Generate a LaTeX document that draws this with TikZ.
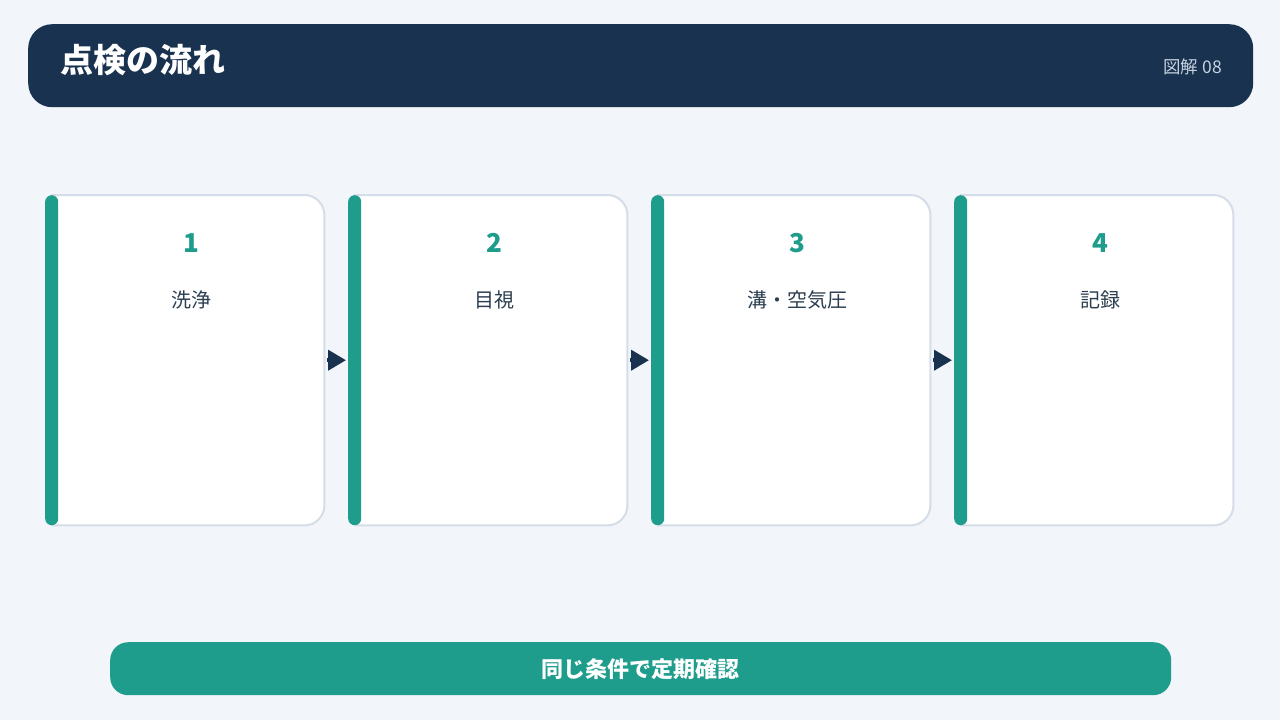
\documentclass[tikz,border=0pt]{standalone}
\usepackage{fontspec}
\setmainfont{Noto Sans CJK JP}
\usepackage{xcolor}
\usepackage{tikz}
\usetikzlibrary{arrows.meta}
\usetikzlibrary{positioning}

\definecolor{navy}{HTML}{18324F}
\definecolor{teal_main}{HTML}{1E9C8C}
\definecolor{page_bg}{HTML}{F2F5FA}
\definecolor{card_line}{HTML}{D5DEE8}
\definecolor{ink}{HTML}{2C3E50}
\definecolor{sub_ink}{HTML}{C5D2E0}

\tikzset{
    box/.style = {rectangle, inner sep=0pt, align=center},
    head_box/.style = {box, fill=navy, rounded corners=24pt, minimum width=1225pt, minimum height=83pt},
    head_title/.style = {box, text=white, font=\fontsize{33}{38}\selectfont\bfseries},
    head_tag/.style = {box, text=sub_ink, font=\fontsize{17.5}{21}\selectfont},
    step_card/.style = {box, minimum width=272pt, minimum height=330pt},
    step_edge/.style = {draw=card_line, fill=white, line width=2pt},
    step_bar/.style = {box, fill=teal_main, rounded corners=6.5pt, minimum width=13pt, minimum height=330pt},
    step_num/.style = {box, text=teal_main, font=\fontsize{26}{30}\selectfont\bfseries},
    step_text/.style = {box, text=ink, font=\fontsize{20}{24}\selectfont},
    flow_arrow/.style = {navy, line width=4pt, -{Triangle[length=18pt, width=20pt]}, shorten <=3pt, shorten >=2pt},
    foot_box/.style = {box, fill=teal_main, rounded corners=18pt, minimum width=1061pt, minimum height=53pt, text=white, font=\fontsize{22}{26}\selectfont\bfseries}
}

\begin{document}
\begin{tikzpicture}[x=1pt, y=1pt]
    \fill[page_bg] (0,0) rectangle (1280,-720);
    \useasboundingbox (0,0) rectangle (1280,-720);

    % header
    \node[head_box, anchor=north west] (head) at (28,-24) {};
    \node[head_title, anchor=west] (title) at (60,-60) {点検の流れ};
    \node[head_tag, anchor=east] (tag) at (1222,-67) {図解 08};

    % steps
    \foreach \i/\name in {1/洗浄, 2/目視, 3/溝・空気圧, 4/記録} {
        \pgfmathsetmacro{\xl}{45 + (\i-1)*303}
        \node[step_card, anchor=north west] (card\i) at (\xl+7,-195) {};
        \filldraw[step_edge] (card\i.north west)
            -- ([xshift=-20pt]card\i.north east) arc[start angle=90, end angle=0, radius=20pt]
            -- ([yshift=20pt]card\i.south east) arc[start angle=0, end angle=-90, radius=20pt]
            -- (card\i.south west) -- cycle;
        \node[step_bar, anchor=north west] (bar\i) at (\xl,-195) {};
        \node[step_num] (num\i) at (\xl+146,-243) {\i};
        \node[step_text, below=57pt of num\i.center, anchor=center] (text\i) {\name};
    }

    % arrows
    \foreach \i [evaluate=\i as \j using int(\i+1)] in {1,2,3} {
        \draw[flow_arrow] (card\i.east) -- (bar\j.west);
    }

    % footer
    \node[foot_box, anchor=north west] (foot) at (110,-642) {同じ条件で定期確認};
\end{tikzpicture}
\end{document}
